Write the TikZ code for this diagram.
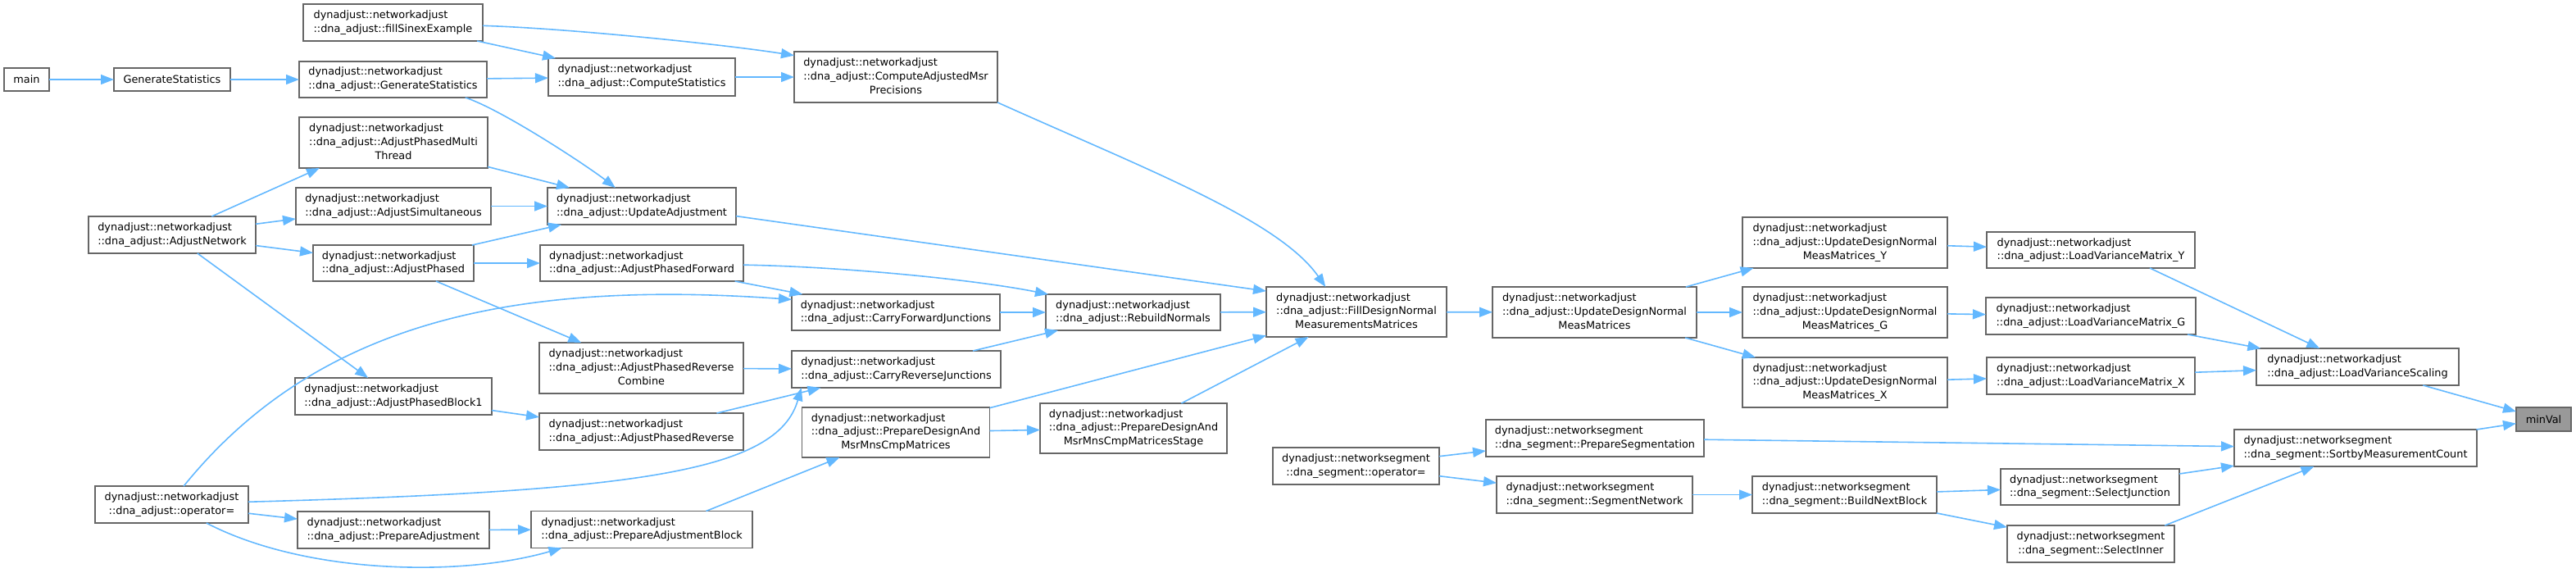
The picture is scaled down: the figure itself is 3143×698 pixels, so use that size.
\documentclass[tikz,border=0pt]{standalone}
\usepackage{fontspec}
\setmainfont{DejaVu Sans}
\usepackage{tikz}
\usetikzlibrary{arrows.meta}

\definecolor{kante}{HTML}{63B8FF}
\definecolor{rahmen}{HTML}{666666}
\definecolor{wurzel}{HTML}{999999}

% Zeilen links, letzte Zeile zentriert
\newcommand{\fname}[2]{\begin{tabular}{@{}l@{}}#1\\\multicolumn{1}{@{}c@{}}{#2}\end{tabular}}

\begin{document}
\begin{tikzpicture}[x=0.5pt, y=-0.5pt, >={Triangle[length=8pt,width=6pt]}, %Voreinstellung für Pfeilspitzen
	fn/.style={draw=rahmen, line width=0.8pt, fill=white, inner sep=0pt, outer sep=0pt},
	sz/.style 2 args={minimum width=#1*0.5pt, minimum height=#2*0.5pt},
	pfeil/.style={->, draw=kante, line width=0.8pt},
	font=\fontsize{6.43}{8.35}\selectfont]
	\useasboundingbox (0,0) rectangle (3143,698);
	% Spalte 1 und 2
	\node[fn, sz={55}{28}] (main) at (32.5,97) {main};
	\node[fn, sz={142}{28}] (genstat) at (210,97) {GenerateStatistics};
	\node[fn, sz={204}{45}] (adjnet) at (210,286.5) {\fname{dynadjust::networkadjust}{::dna\_adjust::AdjustNetwork}};
	\node[fn, sz={187}{45}] (opadj) at (209.5,615.5) {\fname{dynadjust::networkadjust}{::dna\_adjust::operator=}};
	% Spalte 3
	\node[fn, sz={219}{45}] (fillsinex) at (479.5,27.5) {\fname{dynadjust::networkadjust}{::dna\_adjust::fillSinexExample}};
	\node[fn, sz={229}{44}] (dnagenstat) at (479.5,97) {\fname{dynadjust::networkadjust}{::dna\_adjust::GenerateStatistics}};
	\node[fn, sz={230}{62}] (multithread) at (480,174) {\fname{dynadjust::networkadjust\\::dna\_adjust::AdjustPhasedMulti}{Thread}};
	\node[fn, sz={238}{45}] (simult) at (480,251.5) {\fname{dynadjust::networkadjust}{::dna\_adjust::AdjustSimultaneous}};
	\node[fn, sz={196}{44}] (adjphased) at (480,321) {\fname{dynadjust::networkadjust}{::dna\_adjust::AdjustPhased}};
	\node[fn, sz={240}{45}] (phblock1) at (480,483.5) {\fname{dynadjust::networkadjust}{::dna\_adjust::AdjustPhasedBlock1}};
	\node[fn, sz={234}{45}] (prepadj) at (480,646.5) {\fname{dynadjust::networkadjust}{::dna\_adjust::PrepareAdjustment}};
	% Spalte 4
	\node[fn, sz={228}{46}] (compstat) at (783,94) {\fname{dynadjust::networkadjust}{::dna\_adjust::ComputeStatistics}};
	\node[fn, sz={230}{45}] (updadj) at (783,251.5) {\fname{dynadjust::networkadjust}{::dna\_adjust::UpdateAdjustment}};
	\node[fn, sz={248}{44}] (phfwd) at (783,321) {\fname{dynadjust::networkadjust}{::dna\_adjust::AdjustPhasedForward}};
	\node[fn, sz={249}{62}] (phrevcomb) at (782.5,449) {\fname{dynadjust::networkadjust\\::dna\_adjust::AdjustPhasedReverse}{Combine}};
	\node[fn, sz={249}{45}] (phrev) at (782.5,526.5) {\fname{dynadjust::networkadjust}{::dna\_adjust::AdjustPhasedReverse}};
	\node[fn, sz={270}{45}] (prepblock) at (783,646) {\fname{dynadjust::networkadjust}{::dna\_adjust::PrepareAdjustmentBlock}};
	% Spalte 5 und 6
	\node[fn, sz={248}{62}] (compadj) at (1093,94) {\fname{dynadjust::networkadjust\\::dna\_adjust::ComputeAdjustedMsr}{Precisions}};
	\node[fn, sz={254}{44}] (carryfwd) at (1093,381) {\fname{dynadjust::networkadjust}{::dna\_adjust::CarryForwardJunctions}};
	\node[fn, sz={255}{45}] (carryrev) at (1093.5,450.5) {\fname{dynadjust::networkadjust}{::dna\_adjust::CarryReverseJunctions}};
	\node[fn, sz={229}{61}] (prepdesign) at (1093,527.5) {\fname{dynadjust::networkadjust\\::dna\_adjust::PrepareDesignAnd}{MsrMnsCmpMatrices}};
	\node[fn, sz={213}{44}] (rebuild) at (1382.5,381) {\fname{dynadjust::networkadjust}{::dna\_adjust::RebuildNormals}};
	\node[fn, sz={228}{61}] (prepstage) at (1383,522.5) {\fname{dynadjust::networkadjust\\::dna\_adjust::PrepareDesignAnd}{MsrMnsCmpMatricesStage}};
	% Spalte 7 und 8
	\node[fn, sz={220}{61}] (filldesign) at (1655,380.5) {\fname{dynadjust::networkadjust\\::dna\_adjust::FillDesignNormal}{MeasurementsMatrices}};
	\node[fn, sz={203}{45}] (opseg) at (1654.5,568.5) {\fname{dynadjust::networksegment}{::dna\_segment::operator=}};
	\node[fn, sz={249}{62}] (upddesign) at (1945.5,381) {\fname{dynadjust::networkadjust\\::dna\_adjust::UpdateDesignNormal}{MeasMatrices}};
	\node[fn, sz={266}{45}] (prepseg) at (1946,534.5) {\fname{dynadjust::networksegment}{::dna\_segment::PrepareSegmentation}};
	\node[fn, sz={239}{45}] (segnet) at (1945.5,603.5) {\fname{dynadjust::networksegment}{::dna\_segment::SegmentNetwork}};
	% Spalte 9 und 10
	\node[fn, sz={250}{62}] (updy) at (2251,296) {\fname{dynadjust::networkadjust\\::dna\_adjust::UpdateDesignNormal}{MeasMatrices\_Y}};
	\node[fn, sz={250}{62}] (updg) at (2251,381) {\fname{dynadjust::networkadjust\\::dna\_adjust::UpdateDesignNormal}{MeasMatrices\_G}};
	\node[fn, sz={250}{61}] (updx) at (2251,466.5) {\fname{dynadjust::networkadjust\\::dna\_adjust::UpdateDesignNormal}{MeasMatrices\_X}};
	\node[fn, sz={225}{45}] (buildnext) at (2250.5,603.5) {\fname{dynadjust::networksegment}{::dna\_segment::BuildNextBlock}};
	\node[fn, sz={254}{44}] (lvmy) at (2551,305) {\fname{dynadjust::networkadjust}{::dna\_adjust::LoadVarianceMatrix\_Y}};
	\node[fn, sz={256}{45}] (lvmg) at (2551,385.5) {\fname{dynadjust::networkadjust}{::dna\_adjust::LoadVarianceMatrix\_G}};
	\node[fn, sz={254}{45}] (lvmx) at (2551,458.5) {\fname{dynadjust::networkadjust}{::dna\_adjust::LoadVarianceMatrix\_X}};
	\node[fn, sz={218}{44}] (seljunc) at (2550,594) {\fname{dynadjust::networksegment}{::dna\_segment::SelectJunction}};
	\node[fn, sz={204}{45}] (selinner) at (2551,663.5) {\fname{dynadjust::networksegment}{::dna\_segment::SelectInner}};
	% Spalte 11 und 12
	\node[fn, sz={247}{45}] (lvs) at (2876.5,447.5) {\fname{dynadjust::networkadjust}{::dna\_adjust::LoadVarianceScaling}};
	\node[fn, sz={296}{45}] (sortby) at (2874,546.5) {\fname{dynadjust::networksegment}{::dna\_segment::SortbyMeasurementCount}};
	\node[fn, fill=wurzel, sz={67}{29}] (minval) at (3103.5,511.5) {minVal};

	% Aufrufe
	\draw[pfeil] (main) -- (genstat);
	\draw[pfeil] (genstat) -- (dnagenstat);
	\draw[pfeil] (dnagenstat) -- (compstat);
	\draw[pfeil] (dnagenstat.-14) .. controls +(45,15) and +(-35,-27) .. (updadj.145);
	\draw[pfeil] (fillsinex) -- (compstat);
	\draw[pfeil] (fillsinex.-2) .. controls +(100,3) and +(-90,-14) .. (compadj.168);
	\draw[pfeil] (compstat) -- (compadj);
	\draw[pfeil] (compadj.-14) .. controls +(180,81) and +(-57,-82) .. (filldesign.141);
	\draw[pfeil] (adjnet.25) -- (multithread.199);
	\draw[pfeil] (adjnet) -- (simult);
	\draw[pfeil] (adjnet) -- (adjphased);
	\draw[pfeil] (adjnet) -- (phblock1);
	\draw[pfeil] (multithread) -- (updadj);
	\draw[pfeil] (simult) -- (updadj);
	\draw[pfeil] (adjphased) -- (updadj);
	\draw[pfeil] (adjphased) -- (phfwd);
	\draw[pfeil] (adjphased) -- (phrevcomb);
	\draw[pfeil] (updadj.-6) -- (filldesign.167);
	\draw[pfeil] (phfwd.-1) .. controls +(120,2) and +(-90,-18) .. (rebuild.168);
	\draw[pfeil] (phfwd) -- (carryfwd);
	\draw[pfeil] (opadj.57) .. controls +(158,-195) and +(-350,-25) .. (carryfwd.173);
	\draw[pfeil] (opadj.2) .. controls +(477,-13) and +(-29,102) .. (carryrev.191);
	\draw[pfeil] (opadj) -- (prepadj);
	\draw[pfeil] (opadj.-28) .. controls +(119,62) and +(-125,36) .. (prepblock.193);
	\draw[pfeil] (phblock1) -- (phrev);
	\draw[pfeil] (phrevcomb) -- (carryrev);
	\draw[pfeil] (phrev) -- (carryrev);
	\draw[pfeil] (prepadj) -- (prepblock);
	\draw[pfeil] (prepblock.16) -- (prepdesign.204);
	\draw[pfeil] (carryfwd) -- (rebuild);
	\draw[pfeil] (carryrev) -- (rebuild);
	\draw[pfeil] (prepdesign) -- (prepstage);
	\draw[pfeil] (prepdesign) -- (filldesign);
	\draw[pfeil] (rebuild) -- (filldesign);
	\draw[pfeil] (prepstage) -- (filldesign);
	\draw[pfeil] (filldesign) -- (upddesign);
	\draw[pfeil] (upddesign) -- (updy);
	\draw[pfeil] (upddesign) -- (updg);
	\draw[pfeil] (upddesign) -- (updx);
	\draw[pfeil] (updy) -- (lvmy);
	\draw[pfeil] (updg) -- (lvmg);
	\draw[pfeil] (updx) -- (lvmx);
	\draw[pfeil] (lvmy.-17) -- (lvs.154);
	\draw[pfeil] (lvmg) -- (lvs);
	\draw[pfeil] (lvmx) -- (lvs);
	\draw[pfeil] (lvs) -- (minval);
	\draw[pfeil] (opseg) -- (prepseg);
	\draw[pfeil] (opseg) -- (segnet);
	\draw[pfeil] (segnet) -- (buildnext);
	\draw[pfeil] (prepseg) -- (sortby);
	\draw[pfeil] (buildnext) -- (seljunc);
	\draw[pfeil] (buildnext) -- (selinner);
	\draw[pfeil] (seljunc) -- (sortby);
	\draw[pfeil] (selinner.14) -- (sortby.204);
	\draw[pfeil] (sortby) -- (minval);
\end{tikzpicture}
\end{document}
